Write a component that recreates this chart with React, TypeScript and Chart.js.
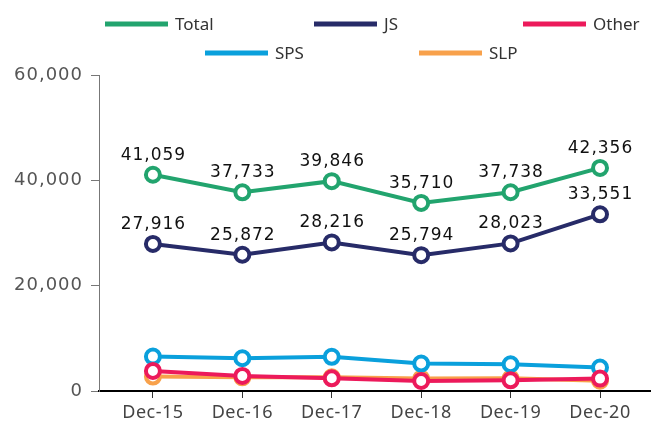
import { useEffect, useRef } from "react";
import { Chart, registerables } from "chart.js";

Chart.register(...registerables);

const categories = ["Dec-15", "Dec-16", "Dec-17", "Dec-18", "Dec-19", "Dec-20"];
const totalValues = [41059, 37733, 39846, 35710, 37738, 42356];
const jsValues = [27916, 25872, 28216, 25794, 28023, 33551];
const otherValues = [3810, 2860, 2410, 1900, 2030, 2350];
const spsValues = [6530, 6220, 6500, 5210, 5080, 4440];
const slpValues = [2750, 2600, 2600, 2350, 2400, 1950];
const yTicks = [0, 20000, 40000, 60000];
const seriesNames = ["Total", "JS", "Other", "SPS", "SLP"];
const seriesValues = [totalValues, jsValues, otherValues, spsValues, slpValues];
const seriesColors = ["#22A46E", "#272B68", "#EC1A5B", "#0AA0DC", "#F8A14B"];
const labeledSeries = ["Total", "JS"];

const fmt = (v: number) => v.toLocaleString("en-US");

const dataLabelPlugin = {
  id: "dataLabels",
  afterDatasetsDraw(chart: any) {
    const ctx = chart.ctx;
    ctx.save();
    ctx.font = "17px 'DejaVu Sans'";
    ctx.fillStyle = "#111";
    ctx.textAlign = "center";
    ctx.textBaseline = "alphabetic";
    (ctx as any).letterSpacing = "1px";
    chart.data.datasets.forEach((ds: any, i: number) => {
      if (!labeledSeries.includes(ds.label)) return;
      const meta = chart.getDatasetMeta(i);
      meta.data.forEach((pt: any, j: number) => {
        ctx.fillText(fmt(ds.data[j].y), pt.x + 0.5, pt.y - 15);
      });
    });
    (ctx as any).letterSpacing = "0px";
    ctx.restore();
  },
};

const legendPlugin = {
  id: "customLegend",
  afterDraw(chart: any) {
    const ctx = chart.ctx;
    const rows = [[0, 1, 2], [3, 4]];
    const rowStart = [105, 205];
    const rowStride = [209, 214];
    const rowY = [24, 53];
    ctx.save();
    ctx.font = "17px 'Noto Sans'";
    ctx.textBaseline = "middle";
    ctx.textAlign = "left";
    rows.forEach((row, r) => {
      row.forEach((di, k) => {
        const ds = chart.data.datasets[di];
        const x = rowStart[r] + k * rowStride[r];
        const y = rowY[r];
        ctx.fillStyle = ds.borderColor;
        ctx.fillRect(x, y - 2.5, 63, 5);
        ctx.fillStyle = "#333";
        ctx.fillText(ds.label, x + 70, y + 1);
      });
    });
    ctx.restore();
  },
};

const withSpacing = (scale: any, spacing: string) => {
  if (scale.__spaced) return;
  scale.__spaced = true;
  const orig = scale.drawLabels.bind(scale);
  scale.drawLabels = (area: any) => {
    const ctx = scale.ctx;
    const prev = (ctx as any).letterSpacing;
    (ctx as any).letterSpacing = spacing;
    orig(area);
    (ctx as any).letterSpacing = prev || "0px";
  };
};

export default function App() {
  const ref = useRef<HTMLCanvasElement | null>(null);

  useEffect(() => {
    document.body.style.margin = "0";
    document.body.style.background = "#fff";
    const canvas = ref.current;
    if (!canvas) return;
    const chart = new Chart(canvas, {
      type: "line",
      data: {
        datasets: seriesNames.map((name, i) => ({
          label: name,
          data: seriesValues[i].map((y, x) => ({ x, y })),
          borderColor: seriesColors[i],
          backgroundColor: seriesColors[i],
          borderWidth: 4,
          pointRadius: 7,
          pointHoverRadius: 7,
          pointBorderWidth: 4,
          pointBackgroundColor: "#fff",
          pointBorderColor: seriesColors[i],
          tension: 0,
          fill: false,
        })),
      },
      options: {
        animation: false,
        responsive: false,
        events: [],
        layout: { padding: { top: 75, left: 0, right: 0, bottom: 0 } },
        plugins: {
          legend: { display: false },
          tooltip: { enabled: false },
        },
        scales: {
          x: {
            type: "linear",
            min: -0.603,
            max: 5.559,
            afterBuildTicks: (axis: any) => {
              axis.ticks = categories.map((_, i) => ({ value: i }));
            },
            afterFit: (scale: any) => {
              scale.height = 32;
              withSpacing(scale, "0.5px");
            },
            ticks: {
              callback: (v: any) => categories[v] ?? "",
              color: "#444",
              font: { family: "'Noto Sans'", size: 18 },
              padding: 4,
              maxRotation: 0,
              autoSkip: false,
            },
            grid: {
              display: true,
              drawOnChartArea: false,
              drawTicks: true,
              tickLength: 7,
              color: "#333",
              lineWidth: 1,
            },
            border: { display: true, color: "#000", width: 2 },
          },
          y: {
            min: 0,
            max: 60000,
            afterBuildTicks: (axis: any) => {
              axis.ticks = yTicks.map((v) => ({ value: v }));
            },
            afterFit: (scale: any) => {
              scale.width = 99;
              withSpacing(scale, "1px");
            },
            ticks: {
              callback: (v: any) => fmt(Number(v)),
              color: "#555",
              font: { family: "'DejaVu Sans'", size: 18 },
              padding: 8,
            },
            grid: {
              display: true,
              drawOnChartArea: false,
              drawTicks: true,
              tickLength: 8,
              color: "#777",
              lineWidth: 1,
            },
            border: { display: true, color: "#777", width: 1 },
          },
        },
      },
      plugins: [dataLabelPlugin, legendPlugin],
    });
    return () => chart.destroy();
  }, []);

  return (
    <div style={{ width: 661, height: 423, position: "relative" }}>
      <canvas ref={ref} width={661} height={423} style={{ display: "block" }} />
    </div>
  );
}
